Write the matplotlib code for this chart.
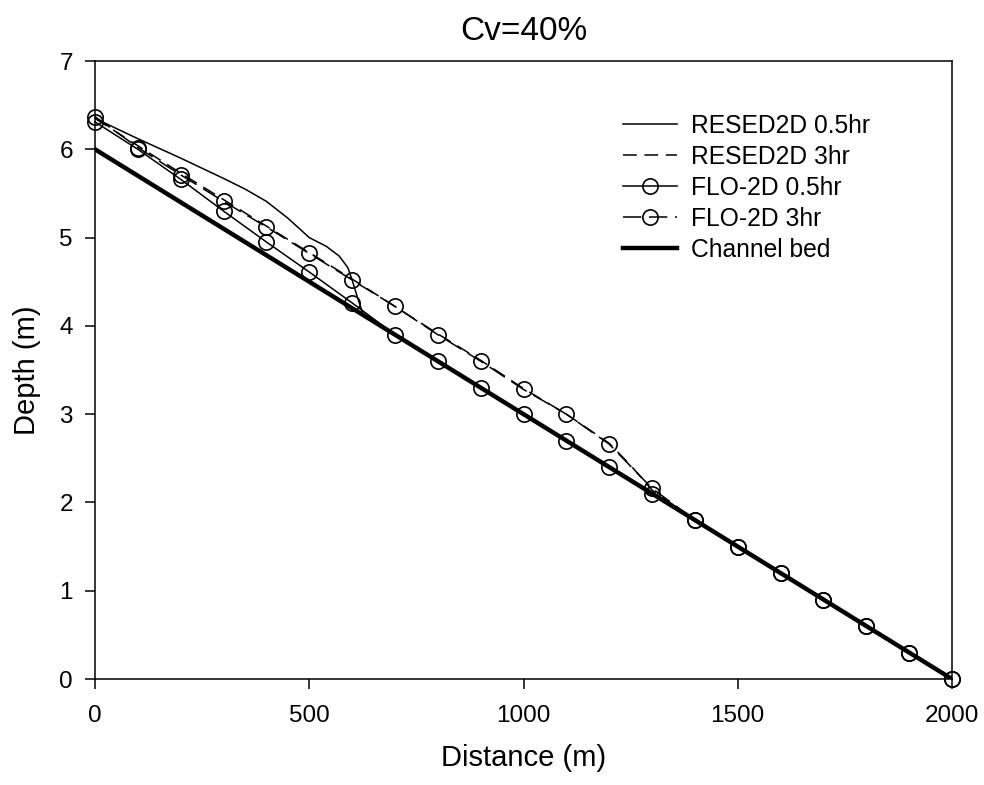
import numpy as np
import matplotlib
matplotlib.use('Agg')
import matplotlib.pyplot as plt

plt.rcParams['font.family'] = ['Liberation Sans', 'DejaVu Sans']

# FLO-2D results every 100 m
flo_x = np.arange(0, 2001, 100)
flo_05 = [6.31, 6.00, 5.66, 5.30, 4.95, 4.61, 4.26, 3.90, 3.60, 3.30, 3.00,
          2.70, 2.40, 2.10, 1.80, 1.50, 1.20, 0.90, 0.60, 0.30, 0.00]
flo_3 = [6.37, 6.02, 5.71, 5.41, 5.12, 4.82, 4.52, 4.22, 3.90, 3.60, 3.28,
         3.00, 2.66, 2.16, 1.80, 1.50, 1.20, 0.90, 0.60, 0.30, 0.00]

# RESED2D profiles
res05_x = [0, 100, 200, 300, 350, 400, 450, 500, 540, 570, 590, 600, 612, 625, 700, 2000]
res05_y = [6.35, 6.12, 5.90, 5.67, 5.55, 5.41, 5.22, 5.00, 4.90, 4.79, 4.66, 4.52, 4.33, 4.14, 3.90, 0.00]
res3_x = [0, 100, 200, 300, 400, 500, 600, 700, 800, 900, 1000, 1100, 1200, 1250, 1300, 1400, 2000]
res3_y = [6.35, 6.04, 5.73, 5.43, 5.13, 4.83, 4.53, 4.22, 3.91, 3.61, 3.29, 3.00, 2.67, 2.42, 2.14, 1.80, 0.00]

# channel bed
bed_x = [0, 2000]
bed_y = [6.0, 0.0]

fig = plt.figure(figsize=(9.84, 7.85), dpi=100)
ax = fig.add_axes([95/984, 1-679/785, (952-95)/984, (679-61)/785])

ax.plot(res05_x, res05_y, color='black', lw=1.1, label='RESED2D 0.5hr')
ax.plot(res3_x, res3_y, color='black', lw=1.1, dashes=(9, 5), label='RESED2D 3hr')
ax.plot(flo_x, flo_05, color='black', lw=1.1, marker='o', ms=11, mfc='none',
        mew=1.2, clip_on=False, label='FLO-2D 0.5hr')
ax.plot(flo_x, flo_3, color='black', lw=1.1, dashes=(12, 5), marker='o', ms=11,
        mfc='none', mew=1.2, clip_on=False, label='FLO-2D 3hr')
ax.plot(bed_x, bed_y, color='black', lw=3.2, label='Channel bed')

ax.set_xlim(0, 2000)
ax.set_ylim(0, 7)
ax.set_xticks([0, 500, 1000, 1500, 2000])
ax.set_yticks(range(8))
ax.tick_params(direction='out', length=7, width=1.1, labelsize=17.5, pad=9)
ax.tick_params(axis='x', pad=12)
for s in ax.spines.values():
    s.set_linewidth(1.1)

ax.set_xlabel('Distance (m)', fontsize=21, labelpad=12)
ax.set_ylabel('Depth (m)', fontsize=21, labelpad=13)
ax.set_title('Cv=40%', fontsize=24, pad=15)

leg = ax.legend(loc='upper left', bbox_to_anchor=(623/984, 1-114/785),
                bbox_transform=fig.transFigure, frameon=False, fontsize=17.7,
                handlelength=2.2, handletextpad=0.55, labelspacing=0.28,
                borderpad=0, borderaxespad=0, numpoints=1)

fig.savefig('out.png', dpi=100)
